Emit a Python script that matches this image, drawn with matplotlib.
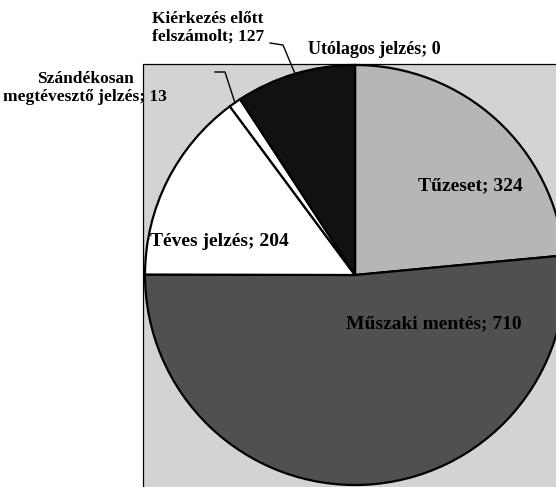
import matplotlib.pyplot as plt
from matplotlib.patches import Rectangle
import numpy as np

# data
labels = ['Tűzeset', 'Műszaki mentés', 'Téves jelzés',
          'Szándékosan\nmegtévesztő jelzés', 'Kiérkezés előtt\nfelszámolt', 'Utólagos jelzés']
values = [324, 710, 204, 13, 127, 0]
colors = ['#b6b6b6', '#505050', '#ffffff', '#ffffff', '#111111', '#ffffff']

W, H = 556, 487
plt.rcParams['font.family'] = ['Liberation Serif', 'DejaVu Serif']

fig = plt.figure(figsize=(W / 100, H / 100), dpi=100)
fig.patch.set_facecolor('white')


def px(x, y):
    # pixel position (from top-left) -> figure fraction
    return x / W, 1 - y / H


# gray plot area behind the pie
bx, by = px(143, H + 5)
fig.patches.append(Rectangle((bx, by), 1.1, (H + 5 - 64) / H, transform=fig.transFigure,
                             facecolor='#d3d3d3', edgecolor='black', linewidth=0.9, zorder=-5))

cx, cy, r = 355, 275, 210
ax = fig.add_axes([(cx - r) / W, 1 - (cy + r) / H, 2 * r / W, 2 * r / H])
ax.set_zorder(2)
ax.patch.set_alpha(0)
wedges, _ = ax.pie(values, colors=colors, startangle=90, counterclock=False,
                   radius=1, wedgeprops=dict(edgecolor='black', linewidth=1.6))
ax.set_xlim(-1, 1)
ax.set_ylim(-1, 1)
ax.set_aspect('equal')
ax.axis('off')

kw = dict(fontweight='bold', ha='center', va='center', zorder=5)


def lab(i):
    return '%s; %d' % (labels[i], values[i])


def edge_point(i):
    w = wedges[i]
    mid = np.deg2rad((w.theta1 + w.theta2) / 2)
    return ax.transData.transform((np.cos(mid), np.sin(mid)))


fig.text(*px(470, 186), lab(0), fontsize=14, **kw)
fig.text(*px(434, 324), lab(1), fontsize=14, **kw)
fig.text(*px(219, 242), lab(2), fontsize=14, **kw)
fig.text(*px(85, 88), lab(3), fontsize=12.5, linespacing=1.15, **kw)
fig.text(*px(208, 28), lab(4), fontsize=12.5, linespacing=1.15, **kw)
fig.text(*px(374, 50), lab(5), fontsize=13, **kw)

# leader lines
inv = fig.transFigure.inverted()
for i, pts in [(3, [(215, 72), (225, 72)]), (4, [(270, 43), (283, 45)])]:
    end = inv.transform(edge_point(i))
    xs = [px(*p)[0] for p in pts] + [end[0]]
    ys = [px(*p)[1] for p in pts] + [end[1]]
    fig.add_artist(plt.Line2D(xs, ys, color='black', linewidth=1.0,
                              transform=fig.transFigure, zorder=4))

fig.savefig('out.png', dpi=100)
